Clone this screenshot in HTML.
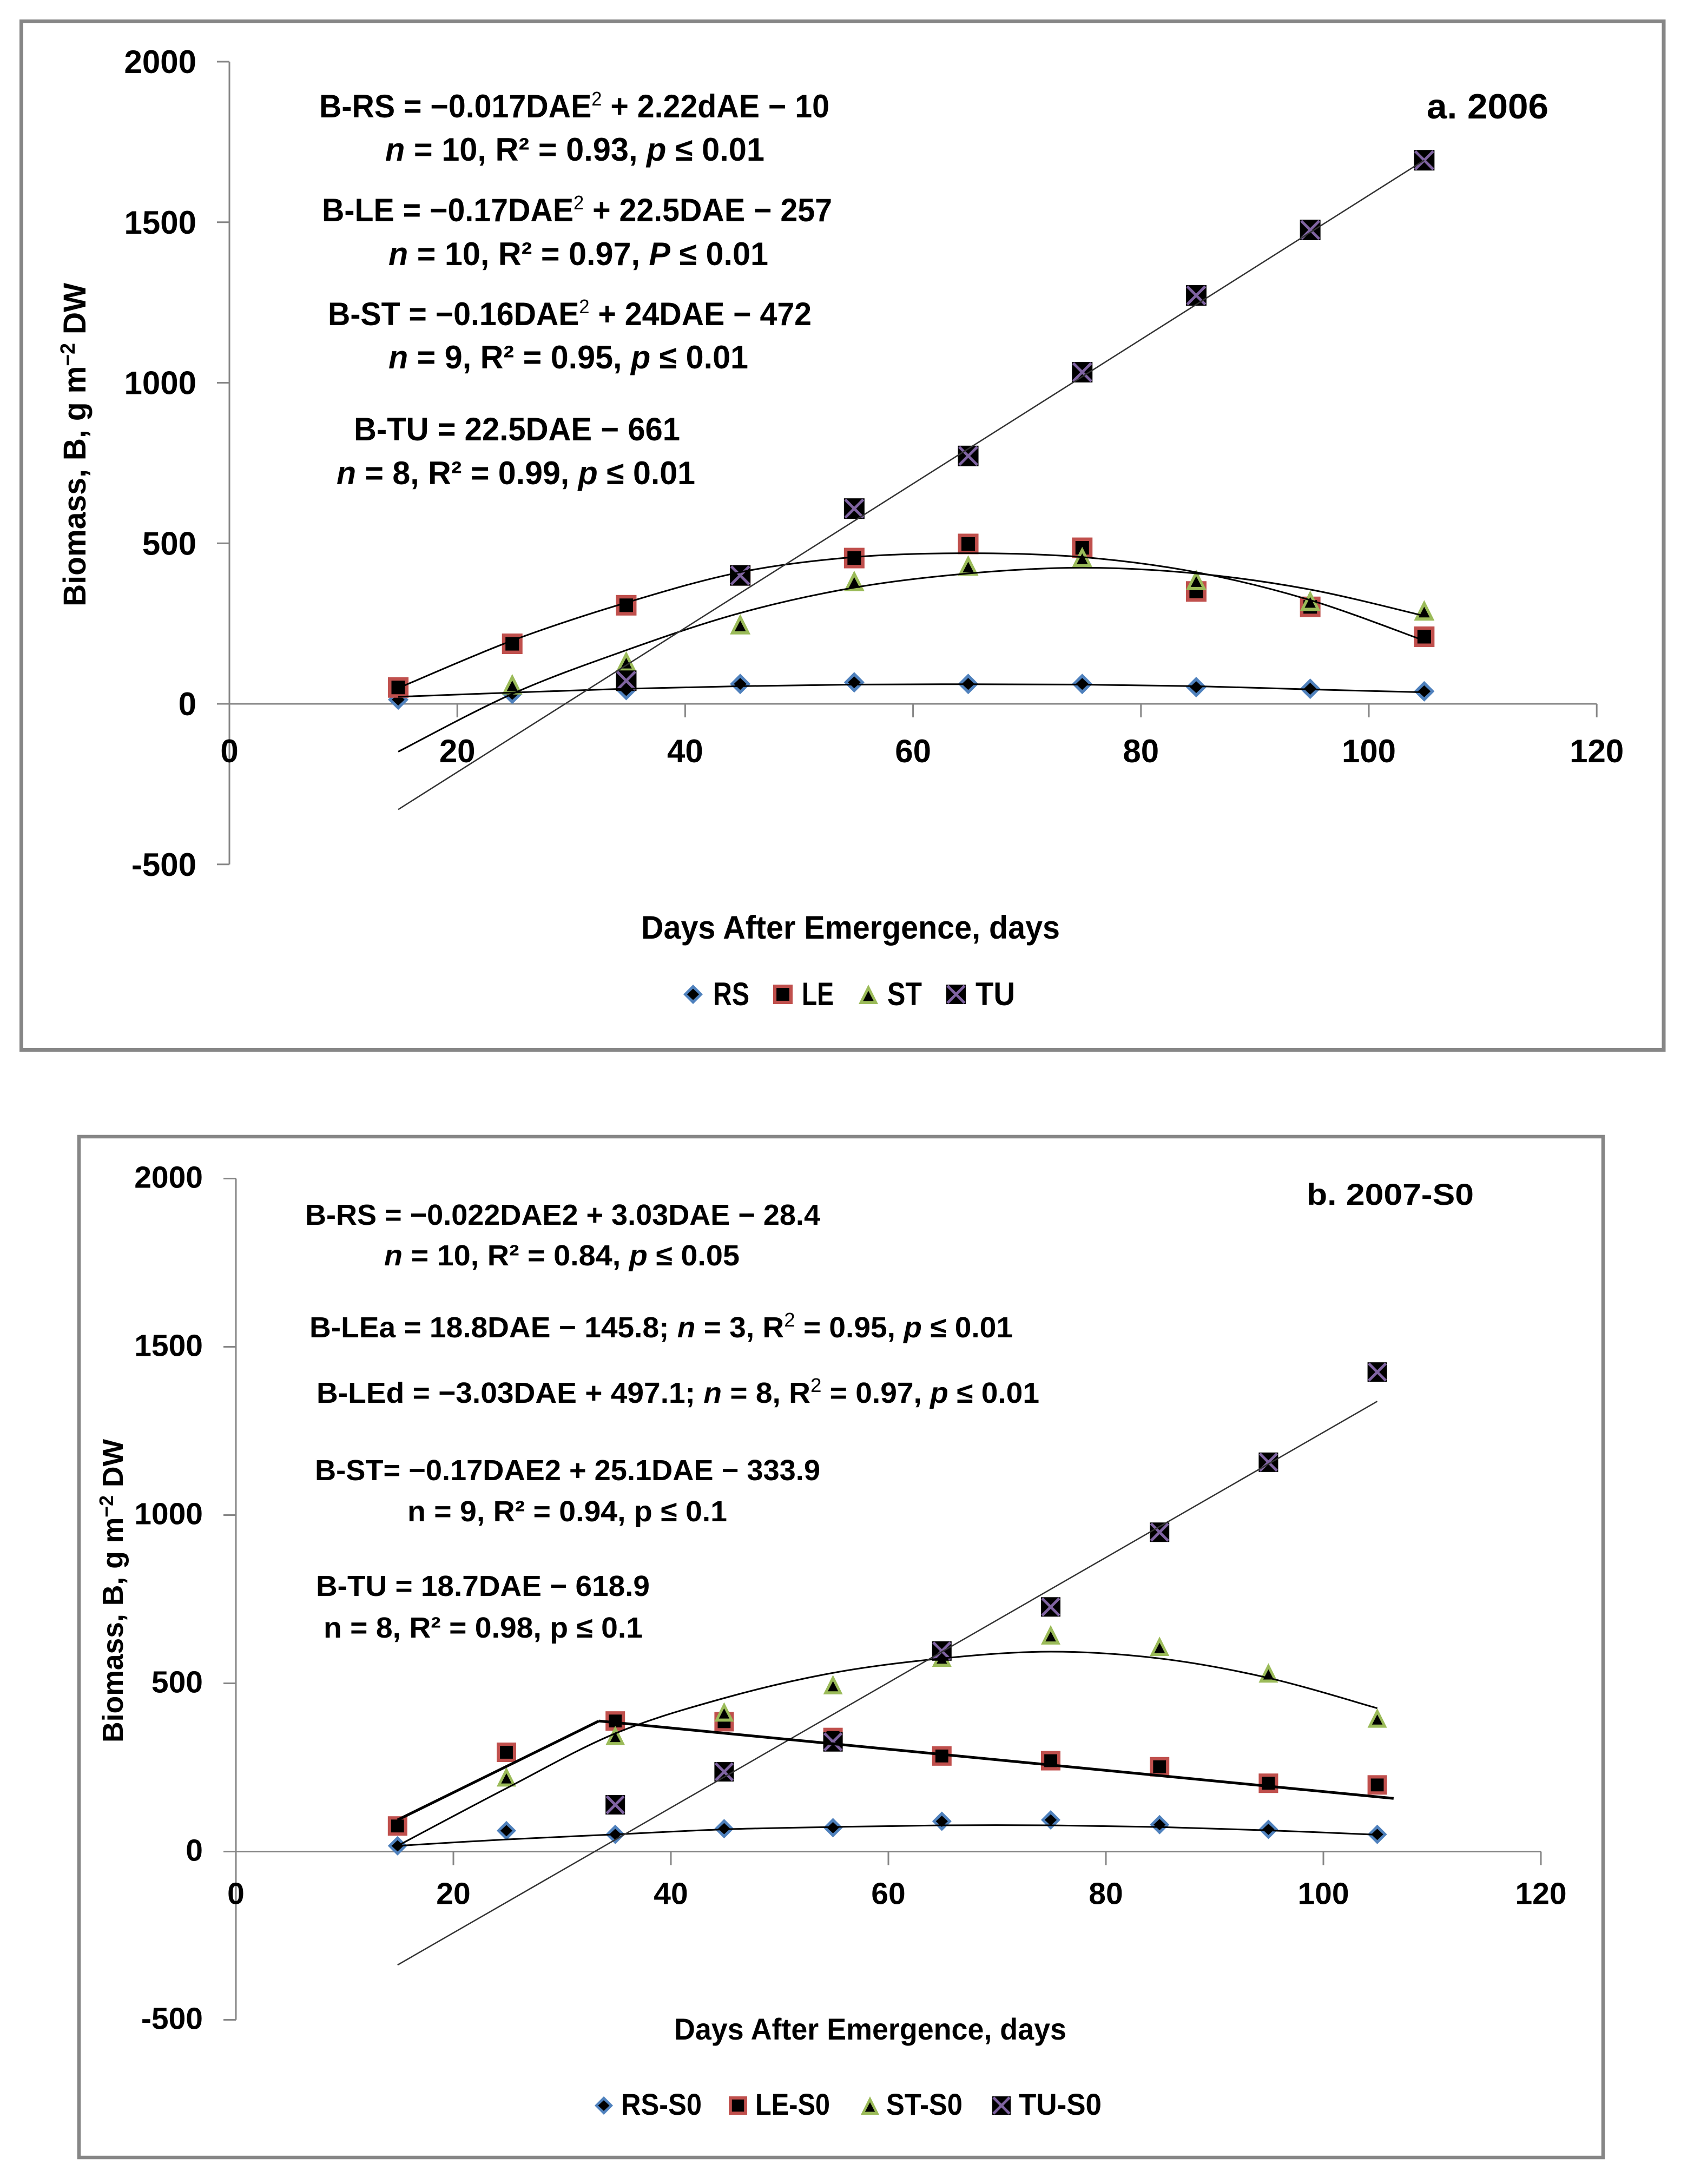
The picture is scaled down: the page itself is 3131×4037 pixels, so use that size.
<!DOCTYPE html>
<html lang="en">
<head>
<meta charset="utf-8">
<title>Biomass vs Days After Emergence</title>
<style>
html,body{margin:0;padding:0;background:#fff;width:3131px;height:4037px;overflow:hidden}
svg{display:block}
text{font-family:"Liberation Sans",sans-serif;font-weight:bold;fill:#000}
.ea{font-size:60px}
.eb{font-size:54px}
.sup{font-size:36px;font-weight:normal}
.i{font-style:italic}
</style>
</head>
<body>
<svg id="figure" xmlns="http://www.w3.org/2000/svg" width="3131" height="4037" viewBox="0 0 3131 4037">
<rect x="0" y="0" width="3131" height="4037" fill="#fff"/>

<g id="panelA">
<rect x="39.5" y="39.5" width="3035.5" height="1901" fill="#fff" stroke="#868686" stroke-width="7"/>
<g id="plotA"></g>
<text transform="translate(158,1121) rotate(-90)" font-size="58" textLength="598" lengthAdjust="spacingAndGlyphs">Biomass, B, g m<tspan dy="-20" font-size="38">−2</tspan><tspan dy="20"> DW</tspan></text>
<text x="1185" y="1735" font-size="60" textLength="774" lengthAdjust="spacingAndGlyphs">Days After Emergence, days</text>
<text x="2637" y="219" font-size="65" textLength="225" lengthAdjust="spacingAndGlyphs">a. 2006</text>
<text class="ea" x="590" y="217" textLength="943" lengthAdjust="spacingAndGlyphs">B-RS = −0.017DAE<tspan class="sup" dy="-22">2</tspan><tspan dy="22"> + 2.22dAE − 10</tspan></text>
<text class="ea" x="712" y="297" textLength="701" lengthAdjust="spacingAndGlyphs"><tspan class="i">n</tspan> = 10, R² = 0.93, <tspan class="i">p</tspan> ≤ 0.01</text>
<text class="ea" x="595" y="409" textLength="943" lengthAdjust="spacingAndGlyphs">B-LE = −0.17DAE<tspan class="sup" dy="-22">2</tspan><tspan dy="22"> + 22.5DAE − 257</tspan></text>
<text class="ea" x="718" y="490" textLength="702" lengthAdjust="spacingAndGlyphs"><tspan class="i">n</tspan> = 10, R² = 0.97, <tspan class="i">P</tspan> ≤ 0.01</text>
<text class="ea" x="606" y="601" textLength="894" lengthAdjust="spacingAndGlyphs">B-ST = −0.16DAE<tspan class="sup" dy="-22">2</tspan><tspan dy="22"> + 24DAE − 472</tspan></text>
<text class="ea" x="718" y="681" textLength="665" lengthAdjust="spacingAndGlyphs"><tspan class="i">n</tspan> = 9, R² = 0.95, <tspan class="i">p</tspan> ≤ 0.01</text>
<text class="ea" x="654" y="814" textLength="603" lengthAdjust="spacingAndGlyphs">B-TU = 22.5DAE − 661</text>
<text class="ea" x="622" y="895" textLength="663" lengthAdjust="spacingAndGlyphs"><tspan class="i">n</tspan> = 8, R² = 0.99, <tspan class="i">p</tspan> ≤ 0.01</text>
<g>
<text x="1318" y="1858" font-size="60" textLength="67" lengthAdjust="spacingAndGlyphs">RS</text>
<text x="1482" y="1858" font-size="60" textLength="59" lengthAdjust="spacingAndGlyphs">LE</text>
<text x="1640" y="1858" font-size="60" textLength="64" lengthAdjust="spacingAndGlyphs">ST</text>
<text x="1803" y="1858" font-size="60" textLength="73" lengthAdjust="spacingAndGlyphs">TU</text>
</g>
</g>

<g id="panelB">
<rect x="146" y="2101" width="2817" height="1887" fill="#fff" stroke="#868686" stroke-width="6.5"/>
<g id="plotB"></g>
<text transform="translate(227,3221) rotate(-90)" font-size="54" textLength="561" lengthAdjust="spacingAndGlyphs">Biomass, B, g m<tspan dy="-18" font-size="36">−2</tspan><tspan dy="18"> DW</tspan></text>
<text x="1246" y="3770" font-size="56" textLength="725" lengthAdjust="spacingAndGlyphs">Days After Emergence, days</text>
<text x="2415" y="2227" font-size="56" textLength="309" lengthAdjust="spacingAndGlyphs">b. 2007-S0</text>
<text class="eb" x="564" y="2264" textLength="952" lengthAdjust="spacingAndGlyphs">B-RS = −0.022DAE2 + 3.03DAE − 28.4</text>
<text class="eb" x="710" y="2339" textLength="657" lengthAdjust="spacingAndGlyphs"><tspan class="i">n</tspan> = 10, R² = 0.84, <tspan class="i">p</tspan> ≤ 0.05</text>
<text class="eb" x="572" y="2472" textLength="1300" lengthAdjust="spacingAndGlyphs">B-LEa = 18.8DAE − 145.8;  <tspan class="i">n</tspan> = 3, R<tspan class="sup" dy="-20">2</tspan><tspan dy="20"> = 0.95, </tspan><tspan class="i">p</tspan> ≤ 0.01</text>
<text class="eb" x="585" y="2593" textLength="1336" lengthAdjust="spacingAndGlyphs">B-LEd = −3.03DAE + 497.1;  <tspan class="i">n</tspan> = 8, R<tspan class="sup" dy="-20">2</tspan><tspan dy="20"> = 0.97, </tspan><tspan class="i">p</tspan> ≤ 0.01</text>
<text class="eb" x="582" y="2736" textLength="934" lengthAdjust="spacingAndGlyphs">B-ST= −0.17DAE2 + 25.1DAE − 333.9</text>
<text class="eb" x="753" y="2812" textLength="591" lengthAdjust="spacingAndGlyphs">n = 9, R² = 0.94, p ≤ 0.1</text>
<text class="eb" x="584" y="2950" textLength="617" lengthAdjust="spacingAndGlyphs">B-TU = 18.7DAE − 618.9</text>
<text class="eb" x="598" y="3027" textLength="590" lengthAdjust="spacingAndGlyphs">n = 8, R² = 0.98, p ≤ 0.1</text>
<g>
<text x="1148" y="3909" font-size="56" textLength="149" lengthAdjust="spacingAndGlyphs">RS-S0</text>
<text x="1396" y="3909" font-size="56" textLength="138" lengthAdjust="spacingAndGlyphs">LE-S0</text>
<text x="1638" y="3909" font-size="56" textLength="141" lengthAdjust="spacingAndGlyphs">ST-S0</text>
<text x="1883" y="3909" font-size="56" textLength="153" lengthAdjust="spacingAndGlyphs">TU-S0</text>
</g>
</g>
</svg>

<script>
// ---- shared axis labels ----
var xTicks = [0, 20, 40, 60, 80, 100, 120];
var yTicks = [-500, 0, 500, 1000, 1500, 2000];
var days = [15, 25, 35, 45, 55, 65, 75, 85, 95, 105];

// ---- panel a (2006): observed values ----
var rsA = [13, 31, 43, 62, 67, 62, 62, 52, 47, 39];
var leA = [51, 187, 307, 400, 454, 498, 486, 350, 302, 209];
var stA = [null, 61, 132, 248, 383, 431, 457, 386, 321, 291];
var tuA = [null, null, 72, 400, 608, 772, 1033, 1272, 1476, 1693];

// ---- panel a: fitted trend values ----
var rsFitA = [22, 35, 47, 55, 60, 61, 60, 55, 45, 36];
var leFitA = [49, 197, 315, 410, 457, 469, 457, 410, 323, 197];
var stFitA = [-149, 31, 167, 283, 362, 406, 424, 406, 356, 274];
var tuFitDaysA = [15, 105];
var tuFitA = [-329, 1693];

// ---- panel b (2007-S0): observed values ----
var rsB = [17, 62, 51, 68, 71, 90, 94, 80, 66, 51];
var leB = [76, 295, 388, 386, 339, 284, 270, 252, 203, 198];
var stB = [null, 222, 345, 415, 496, 578, 644, 610, 531, 397];
var tuB = [null, null, 139, 237, 326, 596, 727, 949, 1157, 1425];

// ---- panel b: fitted trend values ----
var rsFitB = [17, 36, 51, 66, 73, 78, 78, 73, 63, 50];
var stFitB = [17, 188, 351, 456, 531, 574, 594, 574, 516, 426];
var tuFitDaysB = [15, 105];
var tuFitB = [-337, 1338];
var leaFitDays = [15, 33.5];
var leaFit = [94, 388];
var ledFitDays = [33.5, 106.5];
var ledFit = [388, 158];

var NS = 'http://www.w3.org/2000/svg';
var COLORS = { rs: '#4f81bd', le: '#c0504d', st: '#9bbb59', tu: '#8064a2' };

function make(parent, tag, attrs) {
  var el = document.createElementNS(NS, tag);
  for (var k in attrs) { el.setAttribute(k, attrs[k]); }
  parent.appendChild(el);
  return el;
}

function line(parent, x1, y1, x2, y2, color, width, name) {
  var el = make(parent, 'line', { x1: x1, y1: y1, x2: x2, y2: y2, stroke: color, 'stroke-width': width });
  
  
  return el;
}

function smoothPath(px, py) {
  var d = 'M' + px[0] + ' ' + py[0];
  if (px.length === 2) { return d + 'L' + px[1] + ' ' + py[1]; }
  for (var i = 0; i < px.length - 1; i++) {
    var a = Math.max(i - 1, 0), b = Math.min(i + 2, px.length - 1);
    var c1x = px[i] + (px[i + 1] - px[a]) / 6, c1y = py[i] + (py[i + 1] - py[a]) / 6;
    var c2x = px[i + 1] - (px[b] - px[i]) / 6, c2y = py[i + 1] - (py[b] - py[i]) / 6;
    d += 'C' + c1x + ' ' + c1y + ' ' + c2x + ' ' + c2y + ' ' + px[i + 1] + ' ' + py[i + 1];
  }
  return d;
}

function marker(parent, kind, x, y, s, name) {
  var g = make(parent, 'g', {});
  
  
  var h = s / 2;
  if (kind === 'rs') {
    make(g, 'polygon', { points: [x, y - h, x + h, y, x, y + h, x - h, y].join(' '), fill: COLORS.rs });
    make(g, 'polygon', { points: [x, y - h * 0.58, x + h * 0.62, y, x, y + h * 0.58, x - h * 0.62, y].join(' '), fill: '#000' });
  } else if (kind === 'le') {
    make(g, 'rect', { x: x - h, y: y - h, width: s, height: s, fill: COLORS.le });
    make(g, 'rect', { x: x - h * 0.66, y: y - h * 0.66, width: s * 0.66, height: s * 0.66, fill: '#000' });
  } else if (kind === 'st') {
    make(g, 'polygon', { points: [x, y - h, x + h, y + h, x - h, y + h].join(' '), fill: COLORS.st });
    make(g, 'polygon', { points: [x, y - h * 0.36, x + h * 0.54, y + h * 0.68, x - h * 0.54, y + h * 0.68].join(' '), fill: '#000' });
  } else {
    make(g, 'rect', { x: x - h, y: y - h, width: s, height: s, fill: '#000' });
    make(g, 'path', { d: 'M' + (x - h * 0.88) + ' ' + (y - h * 0.88) + 'L' + (x + h * 0.88) + ' ' + (y + h * 0.88) + 'M' + (x + h * 0.88) + ' ' + (y - h * 0.88) + 'L' + (x - h * 0.88) + ' ' + (y + h * 0.88), stroke: COLORS.tu, 'stroke-width': 5, fill: 'none' });
  }
  return g;
}

function drawAxes(root, tx, sy, size, yLabelDrop, xLabelDrop, label) {
  var axisColor = '#868686';
  line(root, tx(0), sy(2000), tx(0), sy(-500), axisColor, 3, 'y-axis-line-' + label);
  line(root, tx(0), sy(0), tx(120), sy(0), axisColor, 3, 'x-axis-line-' + label);
  yTicks.forEach(function (v) {
    line(root, tx(0) - 23, sy(v), tx(0), sy(v), axisColor, 3, 'y-tick-' + v + '-' + label);
    var t = make(root, 'text', { x: tx(0) - 61, y: sy(v) + yLabelDrop, 'text-anchor': 'end', 'font-size': size });
    t.textContent = String(v);
    
    
  });
  xTicks.forEach(function (v) {
    if (v > 0) { line(root, tx(v), sy(0), tx(v), sy(0) + 25, axisColor, 3, 'x-tick-' + v + '-' + label); }
    var t = make(root, 'text', { x: tx(v), y: sy(0) + xLabelDrop, 'text-anchor': 'middle', 'font-size': size });
    t.textContent = String(v);
    
    
  });
}

function drawSeries(root, kind, values, sx, sy, size, label) {
  var g = make(root, 'g', {});
  
  
  values.forEach(function (v, i) {
    if (v === null) { return; }
    marker(g, kind, sx(days[i]), sy(v), size, 'point-' + kind + '-' + days[i]);
  });
}

function drawTrend(root, xs, ys, sx, sy, color, width, name) {
  var el = make(root, 'path', { d: smoothPath(xs.map(sx), ys.map(sy)), fill: 'none', stroke: color, 'stroke-width': width });
  
  
}

// ---- panel a ----
(function () {
  var root = document.getElementById('plotA');
  function tx(v) { return 424 + v * 21.06; }
  function sx(v) { return 420 + v * 21.07; }
  function sy(v) { return 1301 - v * 0.5935; }
  drawAxes(root, tx, sy, 60, 21, 108, '2006');
  drawSeries(root, 'rs', rsA, sx, sy, 38, '2006');
  drawSeries(root, 'le', leA, sx, sy, 38, '2006');
  drawSeries(root, 'st', stA, sx, sy, 38, '2006');
  drawSeries(root, 'tu', tuA, sx, sy, 38, '2006');
  drawTrend(root, days, rsFitA, sx, sy, '#000', 3, 'trend-rs-2006');
  drawTrend(root, days, leFitA, sx, sy, '#000', 3, 'trend-le-2006');
  drawTrend(root, days, stFitA, sx, sy, '#000', 3, 'trend-st-2006');
  drawTrend(root, tuFitDaysA, tuFitA, sx, sy, '#333', 2.5, 'trend-tu-2006');
  marker(root, 'rs', 1281, 1838, 36, 'legend-marker-rs');
  marker(root, 'le', 1447, 1838, 36, 'legend-marker-le');
  marker(root, 'st', 1605, 1838, 36, 'legend-marker-st');
  marker(root, 'tu', 1767, 1838, 36, 'legend-marker-tu');
})();

// ---- panel b ----
(function () {
  var root = document.getElementById('plotB');
  function tx(v) { return 436 + v * 20.1; }
  function sx(v) { return 433 + v * 20.12; }
  function sy(v) { return 3422.5 - v * 0.622; }
  drawAxes(root, tx, sy, 57, 17, 97, '2007');
  drawSeries(root, 'rs', rsB, sx, sy, 36, '2007');
  drawSeries(root, 'le', leB, sx, sy, 36, '2007');
  drawSeries(root, 'st', stB, sx, sy, 36, '2007');
  drawSeries(root, 'tu', tuB, sx, sy, 36, '2007');
  drawTrend(root, days, rsFitB, sx, sy, '#000', 3, 'trend-rs-2007');
  drawTrend(root, days, stFitB, sx, sy, '#000', 3, 'trend-st-2007');
  drawTrend(root, tuFitDaysB, tuFitB, sx, sy, '#333', 2.5, 'trend-tu-2007');
  drawTrend(root, leaFitDays, leaFit, sx, sy, '#000', 5, 'trend-le-rising-2007');
  drawTrend(root, ledFitDays, ledFit, sx, sy, '#000', 5, 'trend-le-declining-2007');
  marker(root, 'rs', 1116, 3892, 34, 'legend-marker-rs-s0');
  marker(root, 'le', 1364, 3892, 34, 'legend-marker-le-s0');
  marker(root, 'st', 1608, 3892, 34, 'legend-marker-st-s0');
  marker(root, 'tu', 1851, 3892, 34, 'legend-marker-tu-s0');
})();
</script>
</body>
</html>
